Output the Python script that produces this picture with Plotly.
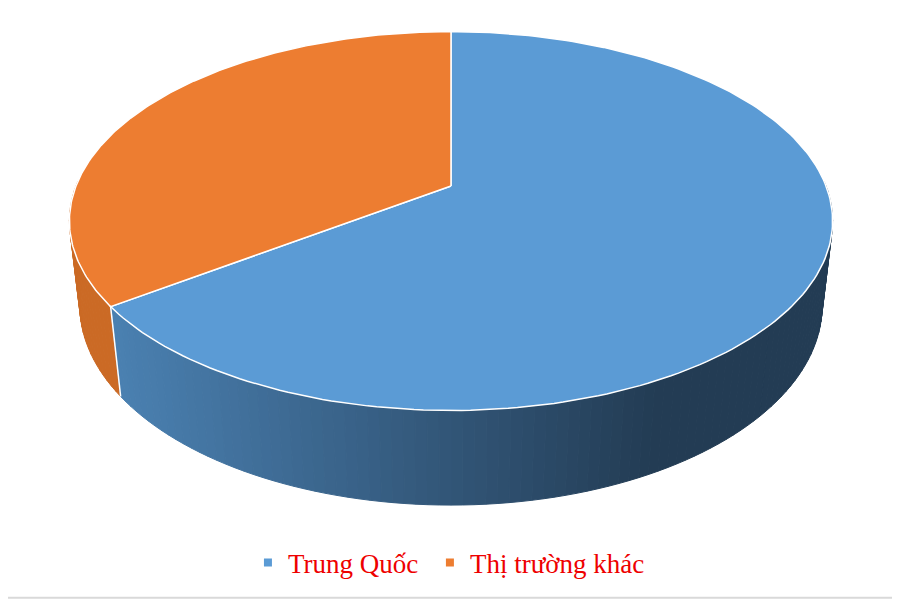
import numpy as np
import plotly.graph_objects as go

# data
labels = ["Trung Quốc", "Thị trường khác"]
values = [65, 35]
top_colors = ["#5B9BD5", "#ED7D31"]
side_left_colors = ["#4A80B1", "#CB6A25"]
side_right_colors = ["#233C54", "#CB6A25"]

# fake 3D camera (pixel space, y grows downwards)
X0, Y0 = 451, 186
F, D = 1770.0, 4.72
alpha = np.radians(29.2)
H = 0.262
ca, sa = np.cos(alpha), np.sin(alpha)


def project(u, v, z):
    depth = D + v * ca - z * sa
    up = v * sa + z * ca
    return X0 + F * u / depth, Y0 - F * up / depth


def mix(c1, c2, t):
    a = [int(c1[i:i + 2], 16) for i in (1, 3, 5)]
    b = [int(c2[i:i + 2], 16) for i in (1, 3, 5)]
    t = min(max(t, 0), 1)
    return "rgb(%d,%d,%d)" % tuple(round(a[k] + (b[k] - a[k]) * t) for k in range(3))


total = float(sum(values))
start = 90.0
slices = []
for lab, val in zip(labels, values):
    end = start - 360.0 * val / total
    slices.append((lab, start, end))
    start = end

fig = go.Figure()

# side wall strips, back to front
strips = []
for i, (lab, a0, a1) in enumerate(slices):
    angs = np.linspace(a0, a1, max(int(abs(a1 - a0) / 1.5), 2) + 1)
    for p, q in zip(angs[:-1], angs[1:]):
        m = np.radians((p + q) / 2)
        if np.sin(m) >= 0.02:
            continue
        p, q = np.radians(p), np.radians(q)
        xs, ys = [], []
        for ang, z in [(p, 0), (q, 0), (q, -H), (p, -H)]:
            sx, sy = project(np.cos(ang), np.sin(ang), z)
            xs.append(sx)
            ys.append(sy)
        mx, _ = project(np.cos(m), np.sin(m), 0)
        col = mix(side_left_colors[i], side_right_colors[i], (mx - 115) / 540)
        strips.append((np.sin(m), xs, ys, col))

strips.sort(key=lambda s: -s[0])
for _, xs, ys, col in strips:
    fig.add_trace(go.Scatter(x=xs + [xs[0]], y=ys + [ys[0]], mode="lines",
                             fill="toself", fillcolor=col,
                             line=dict(color=col, width=1),
                             hoverinfo="skip", showlegend=False))

# seams between slices on the side wall
for lab, a0, a1 in slices:
    r = np.radians(a0)
    if np.sin(r) < -0.25:
        sx1, sy1 = project(np.cos(r), np.sin(r), 0)
        sx2, sy2 = project(np.cos(r), np.sin(r), -H)
        fig.add_trace(go.Scatter(x=[sx1, sx2], y=[sy1, sy2], mode="lines",
                                 line=dict(color="white", width=1.5),
                                 hoverinfo="skip", showlegend=False))

# top face
for i, (lab, a0, a1) in enumerate(slices):
    angs = np.radians(np.linspace(a0, a1, 200))
    xs, ys = project(np.cos(angs), np.sin(angs), 0)
    cx, cy = project(0, 0, 0)
    fig.add_trace(go.Scatter(x=[cx] + list(xs) + [cx], y=[cy] + list(ys) + [cy],
                             mode="lines", fill="toself", fillcolor=top_colors[i],
                             line=dict(color="white", width=1.5),
                             hoverinfo="skip", showlegend=False))

# legend entries, one legend box each so the spacing can follow the original
legend_x = [0.269, 0.473]
legend_font = dict(family="Liberation Serif", size=27, color="#EE0000")
for k, (lab, col) in enumerate(zip(labels, top_colors)):
    fig.add_trace(go.Scatter(x=[None], y=[None], mode="markers", name=lab,
                             legend="legend" if k == 0 else "legend2",
                             marker=dict(symbol="square", size=8, color=col)))

leg_common = dict(orientation="h", xanchor="left", y=0.0625, yanchor="middle",
                  font=legend_font, itemclick=False, itemdoubleclick=False)

# page body has an 8px margin, so the axes cover window pixels 8..900 / 8..600
fig.update_layout(
    width=892, height=592,
    margin=dict(l=0, r=0, t=0, b=0),
    paper_bgcolor="white", plot_bgcolor="white",
    xaxis=dict(range=[8, 900], visible=False, fixedrange=True),
    yaxis=dict(range=[600, 8], visible=False, fixedrange=True),
    legend=dict(x=legend_x[0], **leg_common),
    legend2=dict(x=legend_x[1], **leg_common),
    shapes=[
        dict(type="line", xref="paper", yref="paper", x0=0, x1=1, y0=0.004, y1=0.004,
             line=dict(color="#D9D9D9", width=2)),
    ],
)

fig.write_html("out.html")
